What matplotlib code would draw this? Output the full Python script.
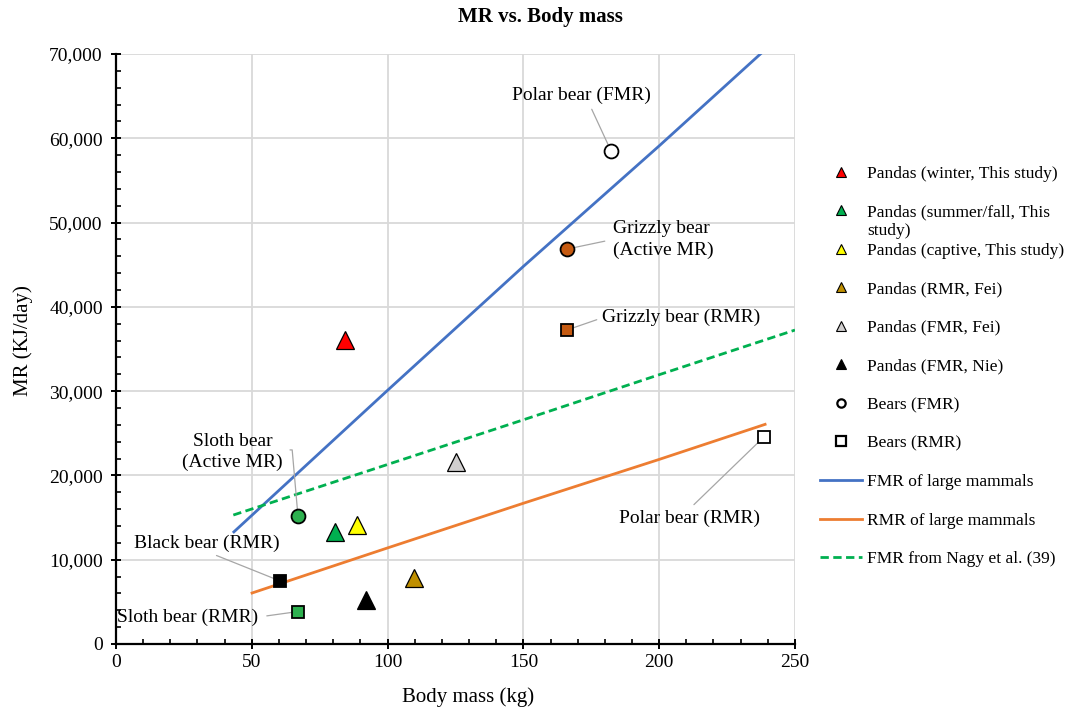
import numpy as np
import matplotlib.pyplot as plt
from matplotlib.ticker import MultipleLocator, FuncFormatter

plt.rcParams['font.family'] = ['Liberation Serif', 'DejaVu Serif']

# --- Данные ---
panda_labels = [
    "Pandas (winter, This study)",
    "Pandas (summer/fall, This",
    "Pandas (captive, This study)",
    "Pandas (RMR, Fei)",
    "Pandas (FMR, Fei)",
    "Pandas (FMR, Nie)",
]
panda_mass = [84.5, 80.5, 88.7, 109.7, 125.2, 92.0]
panda_mr = [36050, 13300, 14150, 7850, 21600, 5250]
panda_colors = ["#FF0000", "#00B050", "#FFFF00", "#BF8F00", "#D0CECE", "#000000"]

# медведи: FMR / активный MR (круги)
bear_fmr_names = ["Polar bear (FMR)", "Grizzly bear\n(Active MR)", "Sloth bear\n(Active MR)"]
bear_fmr_mass = [182.3, 166.1, 67.0]
bear_fmr_mr = [58480, 46860, 15200]
bear_fmr_colors = ["white", "#C55A11", "#2DB04F"]

# медведи: RMR (квадраты)
bear_rmr_names = ["Grizzly bear (RMR)", "Black bear (RMR)", "Sloth bear (RMR)", "Polar bear (RMR)"]
bear_rmr_mass = [166.0, 60.4, 67.0, 238.6]
bear_rmr_mr = [37250, 7480, 3850, 24580]
bear_rmr_colors = ["#C55A11", "#000000", "#2DB04F", "white"]

# линии аллометрии
fmr_large_mass = [43.4, 100, 150, 200, 240]
fmr_large_mr = [13300, 30100, 44800, 59100, 70800]
rmr_large_mass = [50.1, 100, 150, 200, 239]
rmr_large_mr = [6050, 11400, 16700, 21900, 26060]
nagy_mass = [43.2, 100, 150, 200, 250]
nagy_mr = [15300, 21300, 26600, 31950, 37250]

# позиции подписей (в координатах данных)
fmr_text_pos = [(171.2, 65100), (183, 48000), (43, 22800)]
rmr_text_pos = [(179, 38800), (33.5, 11980), (26.5, 3200), (211, 14950)]

fig = plt.figure(figsize=(10.81, 7.08), dpi=100)
ax = fig.add_axes([0.1073, 0.0904, 0.6281, 0.8333])

ax.set_xlim(0, 250)
ax.set_ylim(0, 70000)
ax.xaxis.set_major_locator(MultipleLocator(50))
ax.xaxis.set_minor_locator(MultipleLocator(10))
ax.yaxis.set_major_locator(MultipleLocator(10000))
ax.yaxis.set_minor_locator(MultipleLocator(2000))
ax.yaxis.set_major_formatter(FuncFormatter(lambda v, p: f"{int(v):,}"))
ax.grid(True, which='major', color='#D9D9D9', linewidth=1.3, zorder=0)
ax.set_axisbelow(True)
for s in ['top', 'right']:
    ax.spines[s].set_visible(False)
for s in ['left', 'bottom']:
    ax.spines[s].set_linewidth(1.6)
ax.tick_params(which='major', direction='inout', length=7, width=1.4, labelsize=14)
ax.tick_params(axis='y', which='major', pad=6)
ax.tick_params(which='minor', direction='in', length=3.5, width=1.2)

handles = []
for lab, x, y, c in zip(panda_labels, panda_mass, panda_mr, panda_colors):
    ax.plot([x], [y], linestyle='none', marker='^', markersize=13, markerfacecolor=c,
            markeredgecolor='black', markeredgewidth=0.9, zorder=5)
    h, = ax.plot([], [], linestyle='none', marker='^', markersize=7, markerfacecolor=c,
                 markeredgecolor='black', markeredgewidth=0.8, label=lab)
    handles.append(h)

for x, y, c in zip(bear_fmr_mass, bear_fmr_mr, bear_fmr_colors):
    ax.plot([x], [y], linestyle='none', marker='o', markersize=10, markerfacecolor=c,
            markeredgecolor='black', markeredgewidth=1.3, zorder=5)
h, = ax.plot([], [], linestyle='none', marker='o', markersize=6, markerfacecolor='white',
             markeredgecolor='black', markeredgewidth=1.6, label='Bears (FMR)')
handles.append(h)

for x, y, c in zip(bear_rmr_mass, bear_rmr_mr, bear_rmr_colors):
    ax.plot([x], [y], linestyle='none', marker='s', markersize=8.5, markerfacecolor=c,
            markeredgecolor='black', markeredgewidth=1.3, zorder=5)
h, = ax.plot([], [], linestyle='none', marker='s', markersize=7, markerfacecolor='white',
             markeredgecolor='black', markeredgewidth=1.6, label='Bears (RMR)')
handles.append(h)

h, = ax.plot(fmr_large_mass, fmr_large_mr, color='#4472C4', linewidth=2, label='FMR of large mammals', zorder=3)
handles.append(h)
h, = ax.plot(rmr_large_mass, rmr_large_mr, color='#ED7D31', linewidth=2, label='RMR of large mammals', zorder=3)
handles.append(h)
h, = ax.plot(nagy_mass, nagy_mr, color='#00B050', linewidth=2, linestyle=(0, (3, 1.6)),
             label='FMR from Nagy et al. (39)', zorder=3)
handles.append(h)

# подписи с выносками
arrow = dict(arrowstyle='-', color='#A6A6A6', linewidth=0.9, shrinkA=2, shrinkB=3)
ax.annotate(bear_fmr_names[0], (bear_fmr_mass[0], bear_fmr_mr[0]), xytext=fmr_text_pos[0],
            ha='center', va='center', fontsize=14, arrowprops=dict(arrow, relpos=(0.56, 0)))
ax.annotate(bear_fmr_names[1], (bear_fmr_mass[1], bear_fmr_mr[1]), xytext=fmr_text_pos[1],
            ha='left', va='center', fontsize=14, linespacing=1.3,
            arrowprops=dict(arrow, shrinkA=4, relpos=(0, 0.5)))
ax.annotate(bear_fmr_names[2], (bear_fmr_mass[2], bear_fmr_mr[2]), xytext=fmr_text_pos[2],
            ha='center', va='center', fontsize=14, linespacing=1.3,
            arrowprops=dict(arrowstyle='-', color='#A6A6A6', linewidth=0.9, shrinkA=3, shrinkB=3,
                            connectionstyle='angle,angleA=0,angleB=95,rad=0',
                            relpos=(1.0, 0.55)))
ax.annotate(bear_rmr_names[0], (bear_rmr_mass[0], bear_rmr_mr[0]), xytext=rmr_text_pos[0],
            ha='left', va='center', fontsize=14, arrowprops=dict(arrow, relpos=(0, 0.45)))
ax.annotate(bear_rmr_names[1], (bear_rmr_mass[1], bear_rmr_mr[1]), xytext=rmr_text_pos[1],
            ha='center', va='center', fontsize=14, arrowprops=dict(arrow, relpos=(0.5, 0)))
ax.annotate(bear_rmr_names[2], (bear_rmr_mass[2], bear_rmr_mr[2]), xytext=rmr_text_pos[2],
            ha='center', va='center', fontsize=14, arrowprops=dict(arrow, shrinkA=4, relpos=(1.0, 0.5)))
ax.annotate(bear_rmr_names[3], (bear_rmr_mass[3], bear_rmr_mr[3]), xytext=rmr_text_pos[3],
            ha='center', va='center', fontsize=14, arrowprops=dict(arrow, relpos=(0.5, 1.0)))

fig.text(0.5, 0.976, 'MR vs. Body mass', fontsize=15, fontweight='bold', ha='center', va='center')
ax.set_xlabel('Body mass (kg)', fontsize=15, va='center')
ax.xaxis.set_label_coords(0.518, -0.09)
ax.set_ylabel('MR (KJ/day)', fontsize=15, va='center')
ax.yaxis.set_label_coords(-0.137, 0.515)

leg = fig.legend(handles=handles, loc='upper left', bbox_to_anchor=(0.752, 0.776),
                 frameon=False, fontsize=12.5, handlelength=2.4, handletextpad=0.3,
                 labelspacing=1.29, borderaxespad=0)

# вторая строка подписи (в оригинале текст переносится и выходит за строку)
fig.text(867 / 1081, 1 - 231 / 708, 'study)', fontsize=12.5, ha='left', va='center')

fig.savefig('out.png', dpi=100)
